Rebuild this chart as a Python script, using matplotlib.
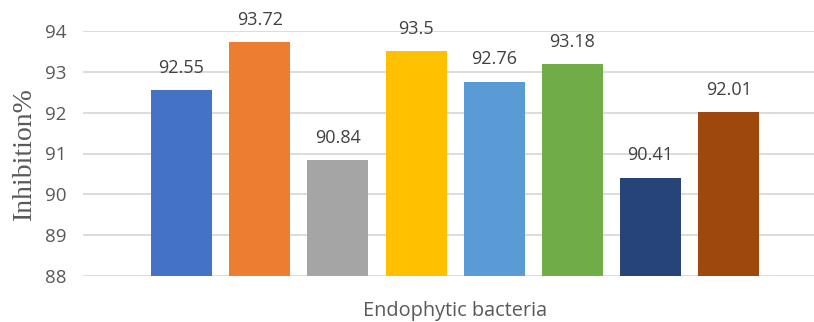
import matplotlib
matplotlib.use("Agg")
import matplotlib.pyplot as plt

categories = ["S1", "S2", "S3", "S4", "S5", "S6", "S7", "S8"]
values = [92.55, 93.72, 90.84, 93.5, 92.76, 93.18, 90.41, 92.01]
colors = ["#4472C4", "#ED7D31", "#A5A5A5", "#FFC000", "#5B9BD5", "#70AD47", "#264478", "#9E480E"]
yticks = [88, 89, 90, 91, 92, 93, 94]

W, H = 814, 322
fig = plt.figure(figsize=(W / 100, H / 100), dpi=100)
ax = fig.add_axes([83 / W, (H - 276) / H, (814 - 83) / W, (276 - 31) / H])

x = list(range(len(values)))
ax.bar(x, [v - 88 for v in values], bottom=88, width=0.78, color=colors, zorder=3)
for xi, v in zip(x, values):
    ax.text(xi, v + 0.33, f"{v:g}", ha="center", va="bottom", fontsize=13,
            color="#404040", family="Open Sans")

ax.set_ylim(88, 94)
ax.set_xlim(-1.26, 8.09)
ax.set_yticks(yticks)
ax.set_yticklabels([str(t) for t in yticks], fontsize=13.5, color="#595959", family="Open Sans")
ax.set_xticks([])
ax.tick_params(axis="y", length=0, pad=12)
ax.grid(axis="y", color="#D9D9D9", linewidth=1.3, zorder=0)
for s in ax.spines.values():
    s.set_visible(False)

ax.set_ylabel("Inhibition%", family="Liberation Serif", fontsize=20, color="#595959", labelpad=6)
fig.text(455 / W, 1 - 311 / H, "Endophytic bacteria", ha="center", va="center",
         fontsize=14.3, color="#595959", family="Open Sans")

fig.savefig("out.png", dpi=100)
